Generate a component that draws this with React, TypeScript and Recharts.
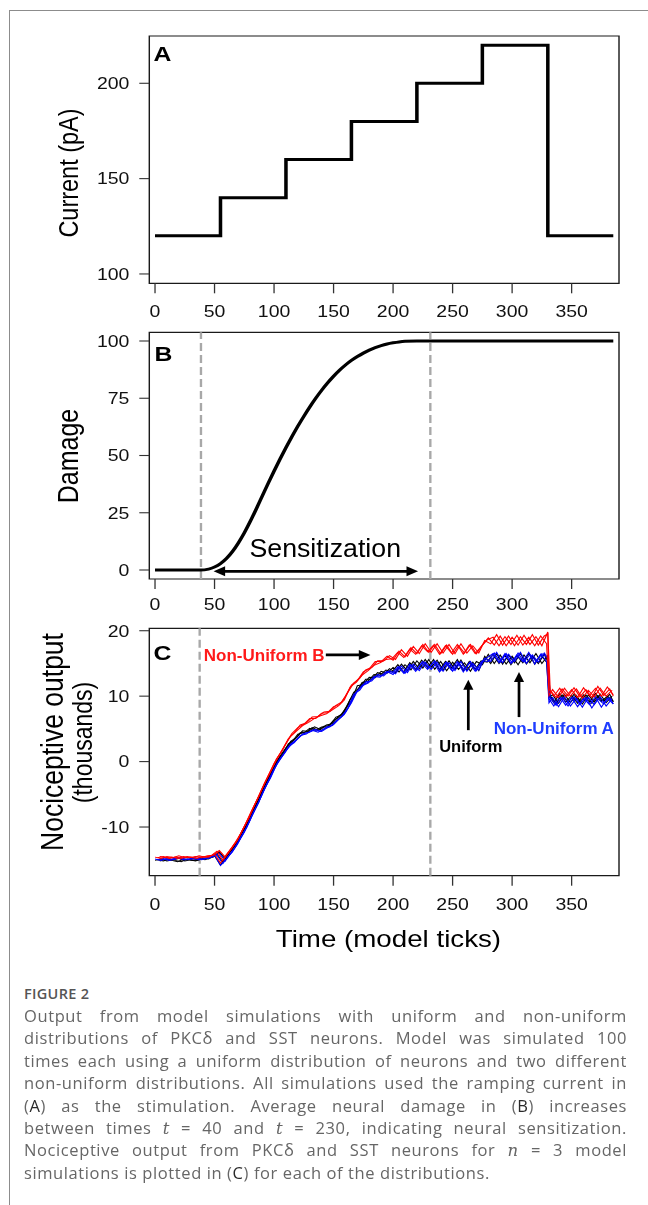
import React from 'react';
import { LineChart, Line, XAxis, YAxis, ReferenceLine, ReferenceArea, ReferenceDot } from 'recharts';

// The original figure is stretched horizontally; we reproduce that with a scaleX wrapper.
const S = 1.18;
const W = 550;
const FONT = '"Liberation Sans", Arial, Helvetica, sans-serif';
const CAP_FONT = '"Open Sans", "Noto Sans", sans-serif';

// ---------- shared time axis ----------
const timeTicks = [0, 50, 100, 150, 200, 250, 300, 350];
const timeDomain = [-4.8, 389.8];

// ---------- Panel A: current ----------
const currentTimes = [0, 55, 110, 165, 220, 275, 330, 385];
const currentValues = [120, 140, 160, 180, 200, 220, 120, 120];
const currentTicks = [100, 150, 200];
const currentDomain = [95.1, 224.8];

// ---------- Panel B: damage ----------
const damageTimes = [0, 10, 20, 30, 38, 45, 50, 55, 60, 65, 70, 75, 80, 85, 90, 95, 100, 105, 110, 115, 120, 125, 130, 135, 140, 145, 150, 155, 160, 165, 170, 175, 180, 185, 190, 195, 200, 205, 210, 220, 230, 260, 300, 340, 385];
const damageValues = [0, 0, 0, 0, 0, 0.4, 1.3, 2.8, 5, 8, 11.8, 16.2, 21.2, 26.6, 32.2, 37.8, 43.2, 48.4, 53.4, 58.2, 62.8, 67.1, 71.2, 75, 78.5, 81.7, 84.6, 87.2, 89.5, 91.5, 93.2, 94.7, 96, 97.1, 98, 98.7, 99.2, 99.6, 99.85, 100, 100, 100, 100, 100, 100];
const damageTicks = [0, 25, 50, 75, 100];
const damageDomain = [-3.93, 103.8];
const damageBounds = [38.6, 231.3];

// ---------- Panel C: nociceptive output (thousands) ----------
const outputTicks = [-10, 0, 10, 20];
const outputDomain = [-17.44, 20.37];
const outputBounds = [37.5, 231.3];

const gridA = [0, 5, 10, 15, 20, 25, 30, 35, 40, 45, 50, 55, 60, 65, 70, 75, 80, 85, 90, 95, 100, 105, 110, 115, 120, 125, 130, 135, 140, 145, 150, 155, 160, 165, 170, 175, 180, 185, 190, 195, 200, 205, 210, 215, 220, 225, 230, 235, 240, 245, 250, 255, 260, 265, 270, 275, 280, 285, 290, 295, 300, 305, 310, 315, 320, 325, 330, 331, 335, 340, 345, 350, 355, 360, 365, 370, 375, 380, 385];
const gridB = [2, 7, 12, 17, 22, 27, 32, 37, 42, 47, 52, 57, 62, 67, 72, 77, 82, 87, 92, 97, 102, 107, 112, 117, 122, 127, 132, 137, 142, 147, 152, 157, 162, 167, 172, 177, 182, 187, 192, 197, 202, 207, 212, 217, 222, 227, 232, 237, 242, 247, 252, 257, 262, 267, 272, 277, 282, 287, 292, 297, 302, 307, 312, 317, 322, 327, 330, 332, 337, 342, 347, 352, 357, 362, 367, 372, 377, 382, 385];
const gridC = [4, 9, 14, 19, 24, 29, 34, 39, 44, 49, 54, 59, 64, 69, 74, 79, 84, 89, 94, 99, 104, 109, 114, 119, 124, 129, 134, 139, 144, 149, 154, 159, 164, 169, 174, 179, 184, 189, 194, 199, 204, 209, 214, 219, 224, 229, 234, 239, 244, 249, 254, 259, 264, 269, 274, 279, 284, 289, 294, 299, 304, 309, 314, 319, 324, 329, 331, 334, 339, 344, 349, 354, 359, 364, 369, 374, 379, 384];

const uniformRun1 = [
  -15.1, -14.9, -15.2, -15.0, -14.8, -15.2, -15.0, -15.1, -14.8, -14.9,
  -14.4, -15.8, -14.5, -13.4, -11.9, -10.4, -8.3, -6.6, -4.5, -2.7,
  -0.9, 0.8, 2.1, 3.0, 4.2, 4.4, 5.1, 4.8, 5.3, 5.3,
  6.3, 6.8, 8.1, 9.3, 11.6, 11.8, 12.9, 12.8, 13.8, 13.5,
  14.4, 13.7, 14.8, 14.0, 15.4, 14.3, 15.6, 14.1, 15.3, 13.9,
  15.2, 14.1, 15.1, 13.8, 15.3, 14.8, 16.4, 15.0, 16.3, 14.9,
  16.1, 14.8, 16.3, 15.1, 16.5, 15.0, 16.2,
  10.2, 9.0, 10.4, 9.1, 10.1, 8.9, 10.2, 9.1, 10.4, 9.2, 10.0, 9.2,
];
const uniformRun2 = [
  -15.0, -15.2, -14.9, -15.1, -15.3, -14.9, -15.1, -14.8, -15.0, -14.6,
  -14.1, -15.4, -14.0, -12.9, -11.1, -9.8, -7.5, -5.9, -3.6, -2.1,
  0.0, 1.0, 2.7, 3.3, 4.4, 4.5, 5.2, 4.8, 5.4, 5.5,
  6.8, 7.1, 8.8, 10.6, 11.3, 12.6, 12.6, 13.6, 13.3, 14.2,
  13.6, 14.9, 13.9, 15.3, 14.2, 15.6, 14.4, 15.5, 14.0, 15.4,
  14.1, 15.5, 14.0, 15.2, 13.9, 16.1, 15.0, 16.5, 14.9, 16.3,
  15.1, 16.5, 14.9, 16.1, 15.0, 16.4,
  15.3, 10.0, 8.9, 10.2, 9.0, 10.3, 9.1, 10.2, 8.9, 10.1, 9.2, 10.3, 9.1,
];
const uniformRun3 = [
  -15.2, -14.9, -15.1, -15.3, -14.9, -15.0, -15.2, -14.9, -14.7, -14.6,
  -13.8, -14.9, -13.5, -12.4, -10.5, -9.0, -6.8, -5.1, -2.9, -1.2,
  0.5, 1.6, 3.1, 3.7, 4.7, 4.6, 5.3, 4.9, 5.6, 5.8,
  6.9, 7.5, 9.5, 10.6, 12.1, 12.3, 13.3, 13.2, 14.0, 13.7,
  14.8, 13.7, 15.1, 14.1, 15.5, 14.4, 15.6, 14.0, 15.3, 14.3,
  15.6, 13.9, 15.3, 14.1, 15.4, 15.2, 16.4, 15.0, 16.3, 14.8,
  16.2, 15.1, 16.5, 14.9, 16.3, 15.2,
  9.8, 10.2, 8.9, 10.3, 9.0, 10.1, 8.8, 10.2, 9.1, 10.3, 9.0, 10.0,
];

const nonUniformARun1 = [
  -14.9, -15.1, -14.8, -15.0, -14.7, -15.0, -14.8, -14.9, -14.7, -14.8,
  -14.3, -15.9, -14.8, -13.8, -12.3, -10.8, -8.8, -7.0, -5.0, -3.1,
  -1.2, 0.4, 1.7, 2.7, 3.6, 4.3, 4.5, 4.9, 4.6, 5.2,
  5.7, 6.6, 7.5, 9.0, 10.8, 11.8, 12.2, 13.0, 13.1, 13.8,
  13.3, 14.5, 13.5, 14.8, 14.0, 15.3, 14.3, 15.4, 13.9, 15.2,
  13.8, 15.1, 14.0, 15.3, 13.9, 15.4, 15.3, 16.6, 15.2, 16.5,
  15.1, 16.6, 15.2, 16.4, 15.3, 16.5, 15.9,
  9.6, 8.5, 9.9, 8.6, 9.8, 8.4, 9.7, 8.7, 9.9, 8.3, 9.7, 8.8,
];
const nonUniformARun2 = [
  -15.0, -14.8, -15.1, -14.9, -14.7, -15.0, -14.8, -15.0, -14.8, -14.6,
  -14.3, -15.6, -14.4, -13.2, -11.6, -10.1, -8.0, -6.3, -4.1, -2.5,
  -0.5, 0.8, 2.3, 2.9, 4.0, 4.2, 4.8, 4.5, 5.0, 5.3,
  6.2, 6.9, 8.2, 10.3, 10.9, 12.2, 12.3, 13.3, 13.1, 13.9,
  13.4, 14.6, 13.6, 14.9, 13.9, 15.2, 14.1, 15.2, 13.8, 15.1,
  13.9, 15.3, 13.8, 15.0, 14.0, 15.8, 15.3, 16.7, 15.1, 16.4,
  15.3, 16.7, 15.0, 16.3, 15.2, 16.6,
  15.8, 9.7, 8.6, 9.8, 8.5, 9.9, 8.7, 9.8, 8.2, 9.6, 8.8, 9.8, 8.8,
];
const nonUniformARun3 = [
  -14.8, -15.0, -14.9, -14.7, -15.0, -14.9, -14.7, -15.0, -14.8, -14.5,
  -14.0, -15.2, -13.9, -12.7, -11.0, -9.3, -7.3, -5.4, -3.4, -1.5,
  0.2, 1.3, 2.7, 3.3, 4.2, 4.5, 4.9, 4.6, 5.3, 5.5,
  6.4, 7.2, 8.8, 10.6, 11.6, 12.0, 13.0, 12.9, 13.7, 13.5,
  14.5, 13.5, 14.9, 13.8, 15.1, 14.1, 15.2, 13.7, 15.1, 14.0,
  15.3, 13.7, 15.1, 13.8, 15.2, 15.9, 16.5, 15.1, 16.5, 15.0,
  16.3, 15.3, 16.7, 14.9, 16.4, 15.3,
  9.0, 9.8, 8.4, 9.9, 8.5, 9.7, 8.3, 9.8, 8.7, 9.9, 8.5, 9.6,
];

const nonUniformBRun1 = [
  -14.6, -14.8, -14.5, -14.7, -14.4, -14.7, -14.6, -14.8, -14.5, -14.6,
  -14.1, -15.5, -14.2, -13.0, -11.7, -9.9, -8.0, -6.1, -4.1, -2.2,
  -0.3, 1.2, 2.8, 4.3, 5.2, 5.7, 6.6, 6.6, 7.4, 7.5,
  8.4, 8.7, 10.0, 11.7, 12.4, 13.7, 14.2, 15.3, 15.3, 16.1,
  15.5, 16.9, 16.0, 17.4, 16.5, 17.9, 16.7, 17.9, 16.5, 17.8,
  16.4, 17.7, 16.6, 17.9, 16.5, 17.8, 18.9, 17.8, 19.2, 17.7,
  19.0, 17.8, 19.3, 17.9, 19.1, 17.7, 19.8,
  11.1, 10.0, 11.2, 9.9, 11.0, 9.8, 11.3, 10.1, 11.2, 10.0, 11.4, 10.2,
];
const nonUniformBRun2 = [
  -14.7, -14.5, -14.8, -14.6, -14.8, -14.5, -14.7, -14.4, -14.6, -14.4,
  -13.7, -15.1, -13.8, -12.5, -11.0, -9.2, -7.2, -5.4, -3.3, -1.6,
  0.4, 1.7, 3.5, 4.4, 5.6, 5.9, 6.8, 6.9, 7.6, 7.7,
  8.6, 9.1, 10.6, 12.0, 12.8, 14.0, 14.4, 15.4, 15.4, 16.2,
  15.6, 17.1, 16.1, 17.6, 16.5, 18.0, 16.7, 18.0, 16.6, 17.9,
  16.5, 18.0, 16.6, 17.7, 16.6, 18.5, 18.0, 19.4, 17.8, 19.2,
  17.7, 19.1, 17.9, 19.4, 17.8, 19.2,
  19.5, 10.9, 9.8, 11.1, 10.0, 11.3, 9.9, 11.0, 9.8, 11.5, 10.1, 11.1, 10.0,
];
const nonUniformBRun3 = [
  -14.5, -14.7, -14.6, -14.8, -14.5, -14.7, -14.5, -14.7, -14.4, -14.3,
  -13.6, -14.6, -13.4, -12.1, -10.3, -8.6, -6.5, -4.6, -2.6, -0.8,
  0.9, 2.4, 3.9, 4.7, 5.5, 6.0, 6.6, 7.0, 7.3, 7.9,
  8.5, 9.4, 11.4, 12.1, 13.2, 13.9, 14.7, 15.1, 15.6, 15.7,
  16.7, 15.9, 17.2, 16.4, 17.7, 16.8, 17.8, 16.4, 17.7, 16.6,
  17.9, 16.4, 17.8, 16.5, 17.6, 18.6, 19.0, 17.7, 19.1, 17.9,
  19.3, 17.8, 19.0, 17.7, 19.2, 18.0,
  10.1, 11.0, 9.8, 11.2, 10.0, 11.1, 9.7, 10.9, 9.9, 11.2, 10.0, 10.9,
];

const captionLines = [
  'Output from model simulations with uniform and non-uniform',
  'distributions of PKCδ and SST neurons. Model was simulated 100',
  'times each using a uniform distribution of neurons and two different',
  'non-uniform distributions. All simulations used the ramping current in',
  '(A) as the stimulation. Average neural damage in (B) increases',
  'between times t = 40 and t = 230, indicating neural sensitization.',
  'Nociceptive output from PKCδ and SST neurons for n = 3 model',
  'simulations is plotted in (C) for each of the distributions.',
];

// ---------- helpers ----------
const zip = (ts: number[], vs: number[]) => ts.map((t, i) => ({ t, v: vs[i] }));

const currentData = zip(currentTimes, currentValues);
const damageData = zip(damageTimes, damageValues);

const outputSeries = [
  { key: 'u1', color: '#000000', data: zip(gridA, uniformRun1) },
  { key: 'u2', color: '#000000', data: zip(gridB, uniformRun2) },
  { key: 'u3', color: '#000000', data: zip(gridC, uniformRun3) },
  { key: 'a1', color: '#0000ff', data: zip(gridA, nonUniformARun1) },
  { key: 'a2', color: '#0000ff', data: zip(gridB, nonUniformARun2) },
  { key: 'a3', color: '#0000ff', data: zip(gridC, nonUniformARun3) },
  { key: 'b1', color: '#ff0000', data: zip(gridA, nonUniformBRun1) },
  { key: 'b2', color: '#ff0000', data: zip(gridB, nonUniformBRun2) },
  { key: 'b3', color: '#ff0000', data: zip(gridC, nonUniformBRun3) },
];

const PLOT_LEFT = 126.53;
const MARGIN_RIGHT = W - 524.58;
const tickStyle = { fontSize: 16.5, fill: '#111', fontFamily: FONT };

const xAxisProps = {
  type: 'number' as const,
  dataKey: 't',
  domain: timeDomain,
  ticks: timeTicks,
  allowDataOverflow: true,
  interval: 0 as const,
  axisLine: false,
  tickSize: 10,
  tickLine: { stroke: '#333', strokeWidth: 1.1 },
  tick: tickStyle,
};

const yAxisProps = {
  type: 'number' as const,
  allowDataOverflow: true,
  interval: 0 as const,
  axisLine: false,
  tickSize: 8.5,
  tickMargin: 8.4,
  width: PLOT_LEFT,
  tickLine: { stroke: '#333', strokeWidth: 1.1 },
  tick: tickStyle,
};

// text annotation drawn at a data point; sx undoes the wrapper stretch when needed
const textShape = (label: string, o: { size: number; color: string; anchor: string; weight?: string; sx?: number }) =>
  (p: any) => (
    <g transform={`translate(${p.cx},${p.cy}) scale(${o.sx ?? 1},1)`}>
      <text x={0} y={0} textAnchor={o.anchor} fontSize={o.size} fill={o.color} fontWeight={o.weight ?? 'normal'} fontFamily={FONT}>
        {label}
      </text>
    </g>
  );

const arrowShape = (o: { both?: boolean; len: number; half: number; width: number }) => (p: any) => {
  const { x1, y1, x2, y2 } = p;
  const dx = x2 - x1;
  const dy = y2 - y1;
  const L = Math.hypot(dx, dy) || 1;
  const ux = dx / L;
  const uy = dy / L;
  const px = -uy;
  const py = ux;
  const head = (tx: number, ty: number, dxu: number, dyu: number) => {
    const bx = tx - dxu * o.len;
    const by = ty - dyu * o.len;
    return `M${tx},${ty}L${bx + px * o.half},${by + py * o.half}L${bx - px * o.half},${by - py * o.half}Z`;
  };
  const sx1 = o.both ? x1 + ux * o.len * 0.8 : x1;
  const sy1 = o.both ? y1 + uy * o.len * 0.8 : y1;
  const sx2 = x2 - ux * o.len * 0.8;
  const sy2 = y2 - uy * o.len * 0.8;
  return (
    <g>
      <line x1={sx1} y1={sy1} x2={sx2} y2={sy2} stroke="#000" strokeWidth={o.width} />
      <path d={head(x2, y2, ux, uy)} fill="#000" />
      {o.both ? <path d={head(x1, y1, -ux, -uy)} fill="#000" /> : null}
    </g>
  );
};

function PanelA() {
  return (
    <LineChart width={W} height={320} data={currentData} margin={{ top: 36, right: MARGIN_RIGHT, bottom: 0, left: 0 }}>
      <XAxis {...xAxisProps} height={36.7} tickMargin={12.4} />
      <YAxis {...yAxisProps} domain={currentDomain} ticks={currentTicks} />
      <ReferenceArea x1={timeDomain[0]} x2={timeDomain[1]} y1={currentDomain[0]} y2={currentDomain[1]} fill="none" stroke="#1a1a1a" strokeWidth={1.2} ifOverflow="visible" />
      <Line type="stepAfter" dataKey="v" stroke="#000" strokeWidth={3} dot={false} isAnimationActive={false} />
    </LineChart>
  );
}

function PanelB() {
  return (
    <LineChart width={W} height={295} data={damageData} margin={{ top: 12.3, right: MARGIN_RIGHT, bottom: 0, left: 0 }}>
      <XAxis {...xAxisProps} height={36} tickMargin={9} />
      <YAxis {...yAxisProps} domain={damageDomain} ticks={damageTicks} />
      <ReferenceArea x1={timeDomain[0]} x2={timeDomain[1]} y1={damageDomain[0]} y2={damageDomain[1]} fill="none" stroke="#1a1a1a" strokeWidth={1.2} ifOverflow="visible" />
      {damageBounds.map((b) => (
        <ReferenceLine key={b} x={b} stroke="#a8a8a8" strokeWidth={2} strokeDasharray="8 4" />
      ))}
      <Line type="monotone" dataKey="v" stroke="#000" strokeWidth={3} dot={false} isAnimationActive={false} />
      <ReferenceLine
        segment={[{ x: 49.2, y: -0.6 }, { x: 221, y: -0.6 }]}
        ifOverflow="visible"
        shape={arrowShape({ both: true, len: 9.8, half: 5, width: 2.6 })}
      />
      <ReferenceDot x={143} y={5.5} r={1} ifOverflow="visible" shape={textShape('Sensitization', { size: 25, color: '#000', anchor: 'middle', sx: 1.07 / S })} />
    </LineChart>
  );
}

function PanelC() {
  return (
    <LineChart width={W} height={300} margin={{ top: 13.3, right: MARGIN_RIGHT, bottom: 0, left: 0 }}>
      <XAxis {...xAxisProps} height={39.3} tickMargin={12.3} />
      <YAxis {...yAxisProps} domain={outputDomain} ticks={outputTicks} />
      <ReferenceArea x1={timeDomain[0]} x2={timeDomain[1]} y1={outputDomain[0]} y2={outputDomain[1]} fill="none" stroke="#1a1a1a" strokeWidth={1.2} ifOverflow="visible" />
      {outputBounds.map((b) => (
        <ReferenceLine key={b} x={b} stroke="#a8a8a8" strokeWidth={2} strokeDasharray="8 4" />
      ))}
      {outputSeries.map((s) => (
        <Line key={s.key} data={s.data} type="linear" dataKey="v" stroke={s.color} strokeWidth={1} dot={false} isAnimationActive={false} />
      ))}
      <ReferenceDot x={142.5} y={15.4} r={1} ifOverflow="visible" shape={textShape('Non-Uniform B', { size: 17, color: '#ff1a1a', anchor: 'end', weight: 'bold', sx: 1 / S })} />
      <ReferenceLine segment={[{ x: 143.5, y: 16.3 }, { x: 181, y: 16.3 }]} ifOverflow="visible" shape={arrowShape({ len: 9.9, half: 5, width: 2.7 })} />
      <ReferenceLine segment={[{ x: 263.2, y: 4.8 }, { x: 263.2, y: 12.5 }]} ifOverflow="visible" shape={arrowShape({ len: 10, half: 4.3, width: 2.3 })} />
      <ReferenceDot x={265.3} y={1.5} r={1} ifOverflow="visible" shape={textShape('Uniform', { size: 16.5, color: '#000', anchor: 'middle', weight: 'bold', sx: 1 / S })} />
      <ReferenceLine segment={[{ x: 305.8, y: 6.8 }, { x: 305.8, y: 13.7 }]} ifOverflow="visible" shape={arrowShape({ len: 10, half: 4.3, width: 2.3 })} />
      <ReferenceDot x={335} y={4.2} r={1} ifOverflow="visible" shape={textShape('Non-Uniform A', { size: 17, color: '#1f3dff', anchor: 'middle', weight: 'bold', sx: 1 / S })} />
    </LineChart>
  );
}

function Overlay() {
  const title = (label: string, x: number, y: number, size: number, key: string) => (
    <text key={key} x={x} y={y} transform={`rotate(-90, ${x}, ${y})`} textAnchor="middle" fontSize={size} fontFamily={FONT} fill="#000">
      {label}
    </text>
  );
  return (
    <svg width={W} height={960} style={{ position: 'absolute', left: 0, top: 0, overflow: 'visible', pointerEvents: 'none' }}>
      <text x={130.2} y={61.5} fontSize={21} fontWeight="bold" fontFamily={FONT}>A</text>
      <text x={131} y={361} fontSize={21} fontWeight="bold" fontFamily={FONT}>B</text>
      <text x={130.2} y={660.5} fontSize={21} fontWeight="bold" fontFamily={FONT}>C</text>
      {title('Current (pA)', 66.4, 173, 23.5, 'ta')}
      {title('Damage', 66, 456, 25, 'tb')}
      {title('Nociceptive output', 53.5, 742, 26.5, 'tc1')}
      {title('(thousands)', 78, 742.5, 23, 'tc2')}
      <text x={329.2} y={947} textAnchor="middle" fontSize={23.5} fontFamily={FONT} fill="#000">Time (model ticks)</text>
    </svg>
  );
}

function CaptionLine({ text, last }: { text: string; last: boolean }) {
  // italics for math variables and darker panel references
  const parts: React.ReactNode[] = [];
  const re = /(\(A\)|\(B\)|\(C\)|\bt = |\bn = )/g;
  let idx = 0;
  let m: RegExpExecArray | null;
  let k = 0;
  while ((m = re.exec(text)) !== null) {
    if (m.index > idx) parts.push(text.slice(idx, m.index));
    const tok = m[0];
    if (tok.startsWith('(')) {
      parts.push('(');
      parts.push(<span key={k++} style={{ color: '#2a2a2a' }}>{tok[1]}</span>);
      parts.push(')');
    } else {
      parts.push(<i key={k++} style={{ fontFamily: '"DejaVu Serif", serif' }}>{tok[0]}</i>);
      parts.push(' = ');
    }
    idx = m.index + tok.length;
  }
  if (idx < text.length) parts.push(text.slice(idx));
  return (
    <div
      style={{
        width: 603,
        textAlign: last ? 'left' : 'justify',
        textAlignLast: last ? 'left' : 'justify',
        fontSize: 16.5,
        letterSpacing: 0.6,
        lineHeight: '22.4px',
        height: 22.4,
      } as React.CSSProperties}
    >
      {parts}
    </div>
  );
}

export default function App() {
  return (
    <div style={{ position: 'absolute', left: 0, top: 0, width: 648, height: 1205, background: '#fff', overflow: 'hidden' }}>
      <div style={{ position: 'absolute', left: 9, top: 10, width: 1, height: 1195, background: '#8c8c8c' }} />
      <div style={{ position: 'absolute', left: 9, top: 10, width: 639, height: 1, background: '#8c8c8c' }} />
      <div style={{ position: 'absolute', left: 0, top: 0, width: W, height: 960, transform: `scaleX(${S})`, transformOrigin: '0 0' }}>
        <div style={{ position: 'absolute', left: 0, top: 0 }}>
          <PanelA />
        </div>
        <div style={{ position: 'absolute', left: 0, top: 320 }}>
          <PanelB />
        </div>
        <div style={{ position: 'absolute', left: 0, top: 615 }}>
          <PanelC />
        </div>
        <Overlay />
      </div>
      <div style={{ position: 'absolute', left: 24, top: 984, fontFamily: CAP_FONT, fontSize: 14.5, fontWeight: 600, color: '#555', letterSpacing: 0.3 }}>
        FIGURE 2
      </div>
      <div style={{ position: 'absolute', left: 24, top: 1005, fontFamily: CAP_FONT, color: '#666' }}>
        {captionLines.map((l, i) => (
          <CaptionLine key={i} text={l} last={i === captionLines.length - 1} />
        ))}
      </div>
    </div>
  );
}
